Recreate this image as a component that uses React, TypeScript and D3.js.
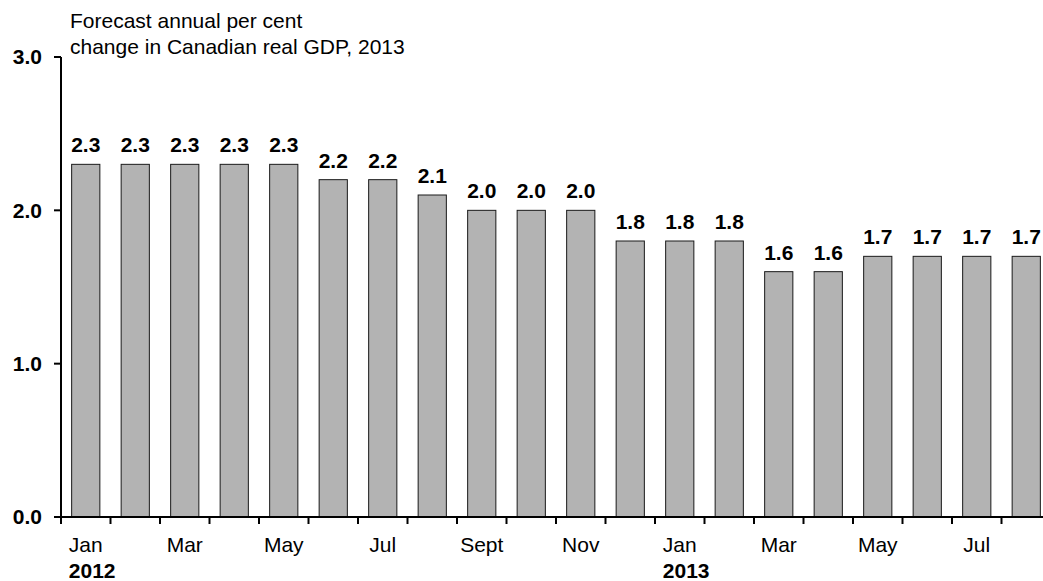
import React, { useEffect, useRef } from "react";
import * as d3 from "d3";

const months = ["Jan","Feb","Mar","Apr","May","Jun","Jul","Aug","Sept","Oct","Nov","Dec","Jan","Feb","Mar","Apr","May","Jun","Jul","Aug"];
const values = [2.3,2.3,2.3,2.3,2.3,2.2,2.2,2.1,2.0,2.0,2.0,1.8,1.8,1.8,1.6,1.6,1.7,1.7,1.7,1.7];
const yTicks = [0, 1, 2, 3];
const years = [{ idx: 0, label: "2012" }, { idx: 12, label: "2013" }];
const titleLines = ["Forecast annual per cent", "change in Canadian real GDP, 2013"];

const W = 1043, H = 581;

export default function App() {
  const ref = useRef<SVGSVGElement>(null);
  useEffect(() => {
    const svg = d3.select(ref.current);
    svg.selectAll("*").remove();
    const font = "'Liberation Sans', Arial, sans-serif";
    const fs = 21;
    const x = d3.scaleBand<number>().domain(d3.range(values.length)).range([61, 1051]).paddingInner(0.43).paddingOuter(0.215);
    const y = d3.scaleLinear().domain([0, 3]).range([517, 57]);

    svg.append("g").selectAll("rect").data(values).join("rect")
      .attr("x", (_, i) => x(i)!)
      .attr("y", d => y(d))
      .attr("width", x.bandwidth())
      .attr("height", d => y(0) - y(d))
      .attr("fill", "#b3b3b3")
      .attr("stroke", "#1a1a1a")
      .attr("stroke-width", 1);

    svg.append("g").selectAll("text").data(values).join("text")
      .attr("x", (_, i) => x(i)! + x.bandwidth() / 2)
      .attr("y", d => y(d) - 12)
      .attr("text-anchor", "middle")
      .attr("font-family", font)
      .attr("font-weight", "bold")
      .attr("font-size", fs)
      .attr("fill", "#000")
      .text(d => d.toFixed(1));

    const ya = svg.append("g");
    ya.append("line").attr("x1", 61).attr("x2", 61).attr("y1", y(3)).attr("y2", y(0)).attr("stroke", "#000").attr("stroke-width", 2);
    ya.selectAll("line.t").data(yTicks).join("line").attr("class", "t")
      .attr("x1", 54).attr("x2", 61).attr("y1", d => y(d)).attr("y2", d => y(d))
      .attr("stroke", "#000").attr("stroke-width", 2);
    ya.selectAll("text").data(yTicks).join("text")
      .attr("x", 42).attr("y", d => y(d)).attr("dy", "0.35em")
      .attr("text-anchor", "end").attr("font-family", font).attr("font-weight", "bold").attr("font-size", fs)
      .text(d => d.toFixed(1));

    const xa = svg.append("g");
    xa.append("line").attr("x1", 54).attr("x2", W).attr("y1", y(0)).attr("y2", y(0)).attr("stroke", "#000").attr("stroke-width", 2);
    const step = x.step();
    xa.selectAll("line.t").data(d3.range(values.length)).join("line").attr("class", "t")
      .attr("x1", i => 61 + i * step).attr("x2", i => 61 + i * step)
      .attr("y1", y(0)).attr("y2", y(0) + 7).attr("stroke", "#000").attr("stroke-width", 2);
    const monthTexts = xa.selectAll("text.m").data(months.map((m, i) => ({ m, i })).filter(d => d.i % 2 === 0)).join("text").attr("class", "m")
      .attr("x", d => x(d.i)! + x.bandwidth() / 2).attr("y", 552)
      .attr("text-anchor", "middle").attr("font-family", font).attr("font-size", fs)
      .text(d => d.m);
    const monthStart = new Map<number, number>();
    monthTexts.each(function (d) {
      const len = (this as SVGTextElement).getComputedTextLength();
      monthStart.set(d.i, x(d.i)! + x.bandwidth() / 2 - len / 2);
    });
    xa.selectAll("text.yr").data(years).join("text").attr("class", "yr")
      .attr("x", d => monthStart.get(d.idx) ?? x(d.idx)!).attr("y", 578)
      .attr("text-anchor", "start").attr("font-family", font).attr("font-weight", "bold").attr("font-size", fs)
      .text(d => d.label);

    svg.append("g").selectAll("text").data(titleLines).join("text")
      .attr("x", 70).attr("y", (_, i) => 28 + i * 26)
      .attr("font-family", font).attr("font-size", fs)
      .text(d => d);
  }, []);
  return (
    <svg ref={ref} width={W} height={H} style={{ position: "absolute", left: 0, top: 0, background: "#fff" }} />
  );
}
